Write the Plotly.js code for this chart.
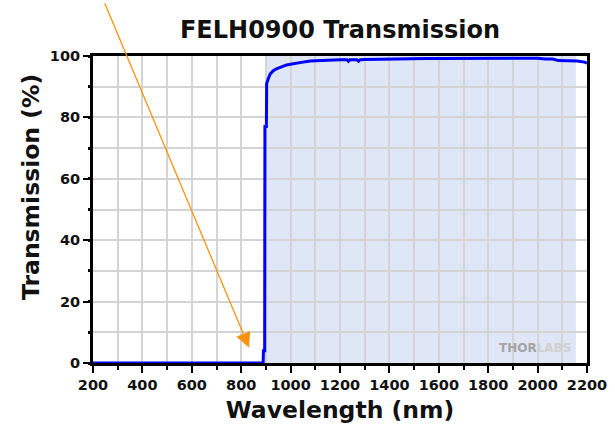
<!DOCTYPE html>
<html>
<head>
<meta charset="utf-8">
<script src="https://cdn.plot.ly/plotly-3.0.1.min.js"></script>
<style>html,body{margin:0;padding:0;background:#fff;}#chart{width:615px;height:433px;}</style>
</head>
<body>
<div id="chart"></div>
<script>
// Data
const wavelength = [200, 889, 890, 895, 896, 902, 903, 906, 910, 917, 924, 930, 940, 950, 965, 984, 1005, 1025, 1050, 1080, 1120, 1160, 1200, 1228, 1234, 1240, 1268, 1275, 1282, 1300, 1350, 1400, 1450, 1500, 1550, 1600, 1650, 1700, 1750, 1800, 1850, 1890, 1930, 1970, 2000, 2030, 2060, 2085, 2120, 2160, 2190, 2200];
const transmission = [0, 0, 4, 4, 77, 77, 91, 92, 92.7, 94.1, 94.8, 95.2, 95.7, 96.0, 96.6, 97.1, 97.4, 97.6, 98.0, 98.4, 98.6, 98.7, 98.8, 98.8, 98.3, 98.8, 98.8, 98.3, 98.8, 98.9, 99.0, 99.0, 99.1, 99.1, 99.2, 99.2, 99.2, 99.2, 99.3, 99.3, 99.3, 99.1, 99.1, 99.3, 99.3, 99.0, 99.0, 98.5, 98.4, 98.4, 98.0, 97.7];
const shadedBand = [900, 2155];          // transmission band shading (nm)
const arrowTip = [832, 5];               // arrow points here (nm, %)
const xTicks = [200, 400, 600, 800, 1000, 1200, 1400, 1600, 1800, 2000, 2200];
const yTicks = [0, 20, 40, 60, 80, 100];
const titleText = 'FELH0900 Transmission';
const xTitle = 'Wavelength (nm)';
const yTitle = 'Transmission (%)';

const FONT = 'DejaVu Sans, Verdana, Arial, sans-serif';

const trace = {
  x: wavelength, y: transmission,
  type: 'scatter', mode: 'lines',
  line: {color: '#0000ff', width: 3, shape: 'linear'},
  hoverinfo: 'skip'
};

const layout = {
  width: 615, height: 433,
  margin: {l: 93, r: 28, t: 56, b: 70},
  paper_bgcolor: '#ffffff', plot_bgcolor: '#ffffff',
  showlegend: false,
  font: {family: FONT, color: '#111111'},
  title: {text: '<b>' + titleText + '</b>', font: {family: FONT, size: 24, color: '#111111'},
          x: 0.5, xref: 'paper', y: 1 - 30/433, yref: 'container', yanchor: 'middle'},
  xaxis: {
    range: [200, 2200], tickvals: xTicks, ticktext: xTicks.map(String),
    showline: true, linecolor: '#000', linewidth: 3, mirror: true,
    ticks: 'outside', ticklen: 7, tickwidth: 2, tickcolor: '#000',
    tickfont: {family: FONT, size: 14.5, color: '#111', weight: 'bold'},
    showgrid: true, gridcolor: '#d4d4d4', gridwidth: 2, zeroline: false,
    minor: {dtick: 100, ticks: 'outside', ticklen: 4, tickwidth: 2, tickcolor: '#000', showgrid: true, gridcolor: '#d4d4d4', gridwidth: 2},
    title: {text: '<b>' + xTitle + '</b>', font: {family: FONT, size: 23.5, color: '#111'}, standoff: 10},
    fixedrange: true
  },
  yaxis: {
    range: [0, 100], tickvals: yTicks, ticktext: yTicks.map(String),
    showline: true, linecolor: '#000', linewidth: 3, mirror: true,
    ticks: 'outside', ticklen: 7, tickwidth: 2, tickcolor: '#000',
    tickfont: {family: FONT, size: 14.5, color: '#111', weight: 'bold'},
    showgrid: true, gridcolor: '#d4d4d4', gridwidth: 2, zeroline: false,
    minor: {dtick: 10, ticks: 'outside', ticklen: 2, tickwidth: 3, tickcolor: '#000', showgrid: true, gridcolor: '#d4d4d4', gridwidth: 2},
    fixedrange: true
  },
  shapes: [{
    type: 'rect', xref: 'x', yref: 'y', x0: shadedBand[0], x1: shadedBand[1], y0: 0, y1: 100,
    fillcolor: '#dfe6f6', line: {width: 0}, layer: 'below'
  }],
  annotations: [
    {
      text: '<b>' + yTitle + '</b>', xref: 'paper', yref: 'paper',
      x: -0.1255, y: (363 - 187) / 307, xanchor: 'center', yanchor: 'middle',
      textangle: -90, showarrow: false, font: {family: FONT, size: 23.5, color: '#111'}
    },
    {
      text: '', x: arrowTip[0], y: arrowTip[1], xref: 'x', yref: 'y',
      showarrow: true, ax: -145, ay: -346, axref: 'pixel', ayref: 'pixel',
      arrowcolor: '#f7930f', arrowwidth: 1.3, arrowhead: 2, arrowsize: 2.3
    },
    {
      text: '<b><span style="color:#a4a4a4">THOR</span><span style="color:#d0d0d0">LABS</span></b>',
      x: 1991, y: 5, xref: 'x', yref: 'y', showarrow: false,
      xanchor: 'center', yanchor: 'middle', font: {family: FONT, size: 12}
    }
  ]
};

Plotly.newPlot('chart', [trace], layout, {staticPlot: true, displayModeBar: false});
</script>
</body>
</html>
